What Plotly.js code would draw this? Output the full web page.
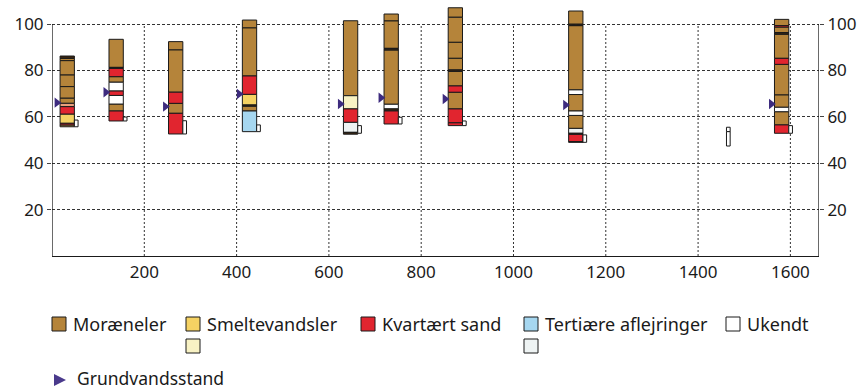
<!DOCTYPE html>
<html><head><meta charset="utf-8">
<script src="https://cdn.plot.ly/plotly-3.0.1.min.js"></script>
<style>html,body{margin:0;padding:0;background:#fff;}#chart{width:858px;height:390px;}</style>
</head><body><div id="chart"></div>
<script>
// ---- data ----
const boreX = [33, 139, 268, 428, 647, 735, 874, 1135, 1446, 1581];
const waterLevel = [66.1, 70.6, 64.4, 69.8, 65.5, 68.2, 67.7, 65.1, null, 65.5];

const layerBore = [0,0,0,0,0,0,0,0,0,0,0, 1,1,1,1,1,1,1,1,1, 2,2,2,2,2, 3,3,3,3,3,3,3, 4,4,4,4,4, 5,5,5,5,5,5,5, 6,6,6,6,6,6,6,6,6,6, 7,7,7,7,7,7,7,7,7,7,7, 9,9,9,9,9,9,9,9,9,9,9];
const layerTop = [86.2,85.2,84.2,78.0,73.0,68.0,65.8,64.4,61.2,57.2,56.5,
  93.4,81.3,80.9,77.3,74.9,71.2,69.2,65.5,62.5,
  92.4,88.8,70.6,65.8,61.5,
  101.7,98.3,77.6,69.7,65.1,64.6,62.5,
  101.4,69.1,63.4,57.6,53.3,
  104.3,101.3,89.5,88.8,65.4,63.4,62.6,
  107.0,102.9,92.1,85.2,80.2,79.6,73.3,70.6,63.4,57.4,
  105.6,99.9,99.3,71.6,69.6,62.5,60.6,55.0,52.9,52.5,49.3,
  102.0,99.3,98.7,96.3,95.6,85.2,82.6,69.4,64.1,62.2,56.5];
const layerBottom = [85.2,84.2,78.0,73.0,68.0,65.8,64.4,61.2,57.2,56.5,55.7,
  81.3,80.9,77.3,74.9,71.2,69.2,65.5,62.5,58.2,
  88.8,70.6,65.8,61.5,52.6,
  98.3,77.6,69.7,65.1,64.6,62.5,53.6,
  69.1,63.4,57.6,53.3,52.5,
  101.3,89.5,88.8,65.4,63.4,62.6,56.9,
  102.9,92.1,85.2,80.2,79.6,73.3,70.6,63.4,57.4,56.2,
  99.9,99.3,71.6,69.6,62.5,60.6,55.0,52.9,52.5,49.3,49.0,
  99.3,98.7,96.3,95.6,85.2,82.6,69.4,64.1,62.2,56.5,52.9];
const layerType = ['D','M','M','M','M','M','Sa','K','S','K','M',
  'M','D','K','M','U','K','U','M','K',
  'M','M','K','M','K',
  'M','M','K','S','D','M','T',
  'M','Sp','K','Tp','D',
  'M','M','D','M','U','D','K',
  'M','M','M','M','D','M','K','M','K','K',
  'M','D','M','U','M','U','M','Tp','D','K','D',
  'M','K','M','D','M','K','M','M','U','M','K'];

const filterBore = [0,1,2,3,4,5,6,7,8,8,9];
const filterTop = [58.6,59.9,58.3,56.5,56.2,59.8,58.2,52.2,55.5,53.6,56.2];
const filterBottom = [55.7,58.2,52.6,53.6,52.9,56.9,56.2,49.0,53.6,47.4,52.9];

const xTickVals = [200,400,600,800,1000,1200,1400,1600];
const xTickText = ['200','400','600','800','1000','1200','1400','1600'];
const yTickVals = [20,40,60,80,100];
const yTickText = ['20','40','60','80','100'];

const legendLabels = ['Moræneler','Smeltevandsler','Kvartært sand','Tertiære aflejringer','Ukendt'];
const waterLabel = 'Grundvandsstand';

// ---- styles ----
const colors = {M:'#b5843a', S:'#f5d263', Sp:'#f8f2c4', K:'#e1252f', T:'#a6d7f0', Tp:'#eef3f3', U:'#ffffff', Sa:'#e9a07c', D:'#3b2712'};
const FONT = '"Noto Sans", "Open Sans", sans-serif';
const colW = 31, filtW = 8;
const X_MAX = 1662, Y_TOP = 100;

const traces = [];
Object.keys(colors).forEach(t => {
  const xs=[], bs=[], hs=[];
  layerType.forEach((lt,i)=>{
    if(lt!==t) return;
    xs.push(boreX[layerBore[i]]);
    bs.push(layerBottom[i]);
    hs.push(layerTop[i]-layerBottom[i]);
  });
  if(!xs.length) return;
  traces.push({type:'bar', x:xs, y:hs, base:bs, width:colW,
    marker:{color:colors[t], line:{color:'#1a1a1a', width:1}}, showlegend:false, hoverinfo:'skip'});
});
traces.push({type:'bar', x:filterBore.map(b=>boreX[b]+colW/2+filtW/2), base:filterBottom,
  y:filterTop.map((v,i)=>v-filterBottom[i]), width:filtW,
  marker:{color:'#ffffff', line:{color:'#1a1a1a', width:1}}, showlegend:false, hoverinfo:'skip'});
const wx=[], wy=[];
waterLevel.forEach((w,i)=>{ if(w!==null){ wx.push(boreX[i]-colW/2-7); wy.push(w);} });
traces.push({type:'scatter', mode:'markers', x:wx, y:wy, cliponaxis:false,
  marker:{symbol:'triangle-right', size:9, color:'#3d2b7e', line:{width:0}}, showlegend:false, hoverinfo:'skip'});
traces.push({type:'scatter', mode:'markers', x:[0], y:[0], yaxis:'y2', marker:{opacity:0}, showlegend:false, hoverinfo:'skip'});

// ---- frame: plot area px, 0..100 maps to 256..24 ----
const L=52, R=819, B=256, PXU=2.32, TOPPX=4;
const yMax = (B-TOPPX)/PXU;
const T100 = B - 100*PXU;
const px=x=>(x-L)/(R-L), py=y=>(B-y)/(B-TOPPX);
const shapes=[], annotations=[];
// vertical dotted gridlines up to 100
xTickVals.forEach(v=>shapes.push({type:'line',xref:'x',yref:'y',x0:v,x1:v,y0:0,y1:Y_TOP,layer:'below',line:{color:'#333',width:1,dash:'2px,2px'}}));
// left / right frame lines up to 100
[0, X_MAX].forEach(v=>shapes.push({type:'line',xref:'x',yref:'y',x0:v,x1:v,y0:0,y1:Y_TOP,layer:'above',line:{color:'#1a1a1a',width:1.3}}));

// ---- legend (manual) ----
const swX=[52,186,361,524,726], txX=[72,206,381,544,746];
const swC=['M','S','K','T','U'];
function rect(x0,y0,c){shapes.push({type:'rect',xref:'paper',yref:'paper',x0:px(x0),x1:px(x0+14),y0:py(y0),y1:py(y0+14),fillcolor:colors[c],line:{color:'#1a1a1a',width:1}});}
legendLabels.forEach((lab,i)=>{
  rect(swX[i],317,swC[i]);
  annotations.push({xref:'paper',yref:'paper',x:px(txX[i]),y:py(324),text:lab,showarrow:false,xanchor:'left',yanchor:'middle',borderpad:0,font:{family:FONT,size:18,color:'#1a1a1a'}});
});
rect(186,339,'Sp'); rect(524,339,'Tp');
shapes.push({type:'path',xref:'paper',yref:'paper',path:`M ${px(54)} ${py(374)} L ${px(66)} ${py(380)} L ${px(54)} ${py(386)} Z`,fillcolor:'#4a3a8c',line:{width:0}});
annotations.push({xref:'paper',yref:'paper',x:px(76),y:py(378),text:waterLabel,showarrow:false,xanchor:'left',yanchor:'middle',borderpad:0,font:{family:FONT,size:17.5,color:'#1a1a1a'}});

const yax = {range:[0,yMax], tickvals:yTickVals, ticktext:yTickText, showline:false,
  ticks:'outside', ticklen:4, tickcolor:'#444', showgrid:true, gridcolor:'#333', griddash:'3px,2px', gridwidth:1,
  zeroline:false, tickfont:{family:FONT,size:17,color:'#1a1a1a'}, fixedrange:true};
const layout = {
  width:858, height:390, margin:{l:L, r:858-R, t:TOPPX, b:390-B}, paper_bgcolor:'#fff', plot_bgcolor:'#fff',
  barmode:'overlay', showlegend:false,
  xaxis:{range:[0,X_MAX], tickvals:xTickVals, ticktext:xTickText, showline:true, linecolor:'#1a1a1a', linewidth:1.3,
    ticks:'', showgrid:false, zeroline:false,
    tickfont:{family:FONT,size:17,color:'#1a1a1a'}},
  yaxis: yax,
  yaxis2: Object.assign({}, yax, {overlaying:'y', side:'right', showgrid:false}),
  shapes, annotations
};
Plotly.newPlot('chart', traces, layout, {staticPlot:true});
</script></body></html>
